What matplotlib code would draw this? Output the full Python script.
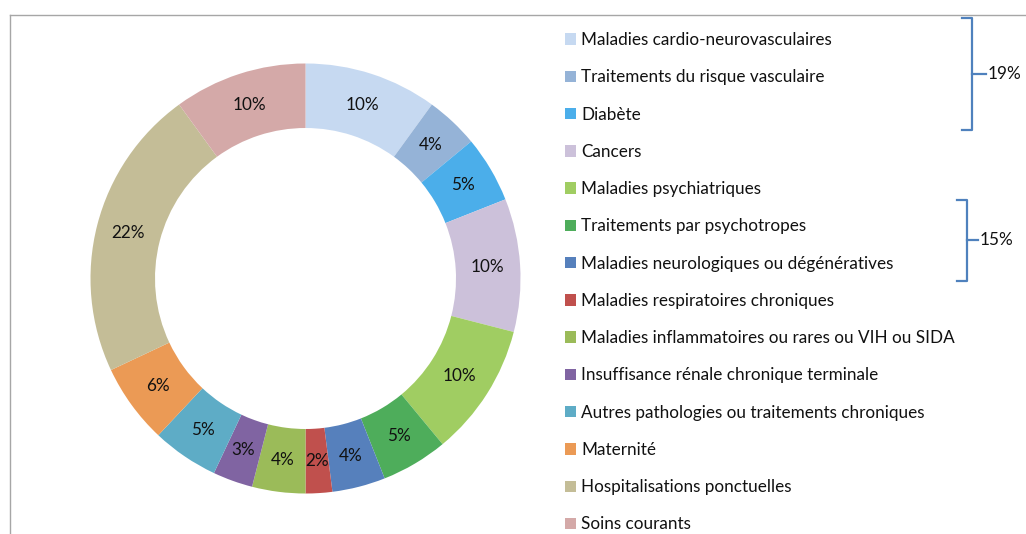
import matplotlib
matplotlib.use("Agg")
import matplotlib.pyplot as plt
from matplotlib.lines import Line2D
from matplotlib.patches import Patch

categories = [
    "Maladies cardio-neurovasculaires",
    "Traitements du risque vasculaire",
    "Diabète",
    "Cancers",
    "Maladies psychiatriques",
    "Traitements par psychotropes",
    "Maladies neurologiques ou dégénératives",
    "Maladies respiratoires chroniques",
    "Maladies inflammatoires ou rares ou VIH ou SIDA",
    "Insuffisance rénale chronique terminale",
    "Autres pathologies ou traitements chroniques",
    "Maternité",
    "Hospitalisations ponctuelles",
    "Soins courants",
]
values = [10, 4, 5, 10, 10, 5, 4, 2, 4, 3, 5, 6, 22, 10]
colors = ["#C6D9F1", "#95B3D7", "#4BAEEA", "#CCC1DA", "#A0CD62", "#4EAD5B",
          "#5680BC", "#C0504D", "#9BBB59", "#8064A2", "#5EACC6", "#EB9A55",
          "#C4BD97", "#D4A9A8"]
group_labels = ["19%", "15%"]

plt.rcParams['font.family'] = ['Lato', 'DejaVu Sans']
FS = 12.3

W, H = 1026, 534
fig = plt.figure(figsize=(W / 100, H / 100), dpi=100)

# donut
cx, cy, r = 305.5, 534 - 278.5, 215
ax = fig.add_axes([(cx - r) / W, (cy - r) / H, 2 * r / W, 2 * r / H])
wedges, texts = ax.pie(values, colors=colors, startangle=90, counterclock=False,
                       radius=1, wedgeprops=dict(width=0.30, linewidth=0),
                       labels=[f"{v}%" for v in values], labeldistance=0.85,
                       textprops=dict(ha='center', va='center', fontsize=FS, color='#111111'))
ax.set_aspect('equal')
ax.set_xlim(-1, 1)
ax.set_ylim(-1, 1)
ax.axis('off')

# legend
handles = [Patch(facecolor=c, edgecolor='none') for c in colors]
fig.legend(handles, categories, loc='upper left', bbox_to_anchor=(565 / W, 1 - 32 / H),
           frameon=False, fontsize=FS, handlelength=0.65, handleheight=0.65,
           handletextpad=0.3, labelspacing=1.245, borderpad=0, borderaxespad=0,
           labelcolor='#111111')

# frame lines (top and left)
fig.add_artist(Line2D([10 / W, 10 / W], [0, 1 - 15 / H], transform=fig.transFigure,
                      color='#A6A6A6', lw=1))
fig.add_artist(Line2D([10 / W, 1], [1 - 15 / H, 1 - 15 / H], transform=fig.transFigure,
                      color='#A6A6A6', lw=1))

# braces
def brace(x0, x1, y0, y1, tick, label):
    ym = (y0 + y1) / 2
    fx = lambda x: x / W
    fy = lambda y: 1 - y / H
    fig.add_artist(Line2D([fx(x0), fx(x1), fx(x1), fx(x0)], [fy(y0), fy(y0), fy(y1), fy(y1)],
                          transform=fig.transFigure, color='#4F81BD', lw=1.6,
                          solid_joinstyle='round'))
    fig.add_artist(Line2D([fx(x1), fx(tick)], [fy(ym), fy(ym)],
                          transform=fig.transFigure, color='#4F81BD', lw=1.6))
    fig.text(fx(tick + 2), fy(ym), label, fontsize=FS, va='center', ha='left', color='#111111')

brace(962, 972, 18, 130, 986, group_labels[0])
brace(957, 967, 200, 281, 978, group_labels[1])

fig.savefig("out.png", dpi=100)
